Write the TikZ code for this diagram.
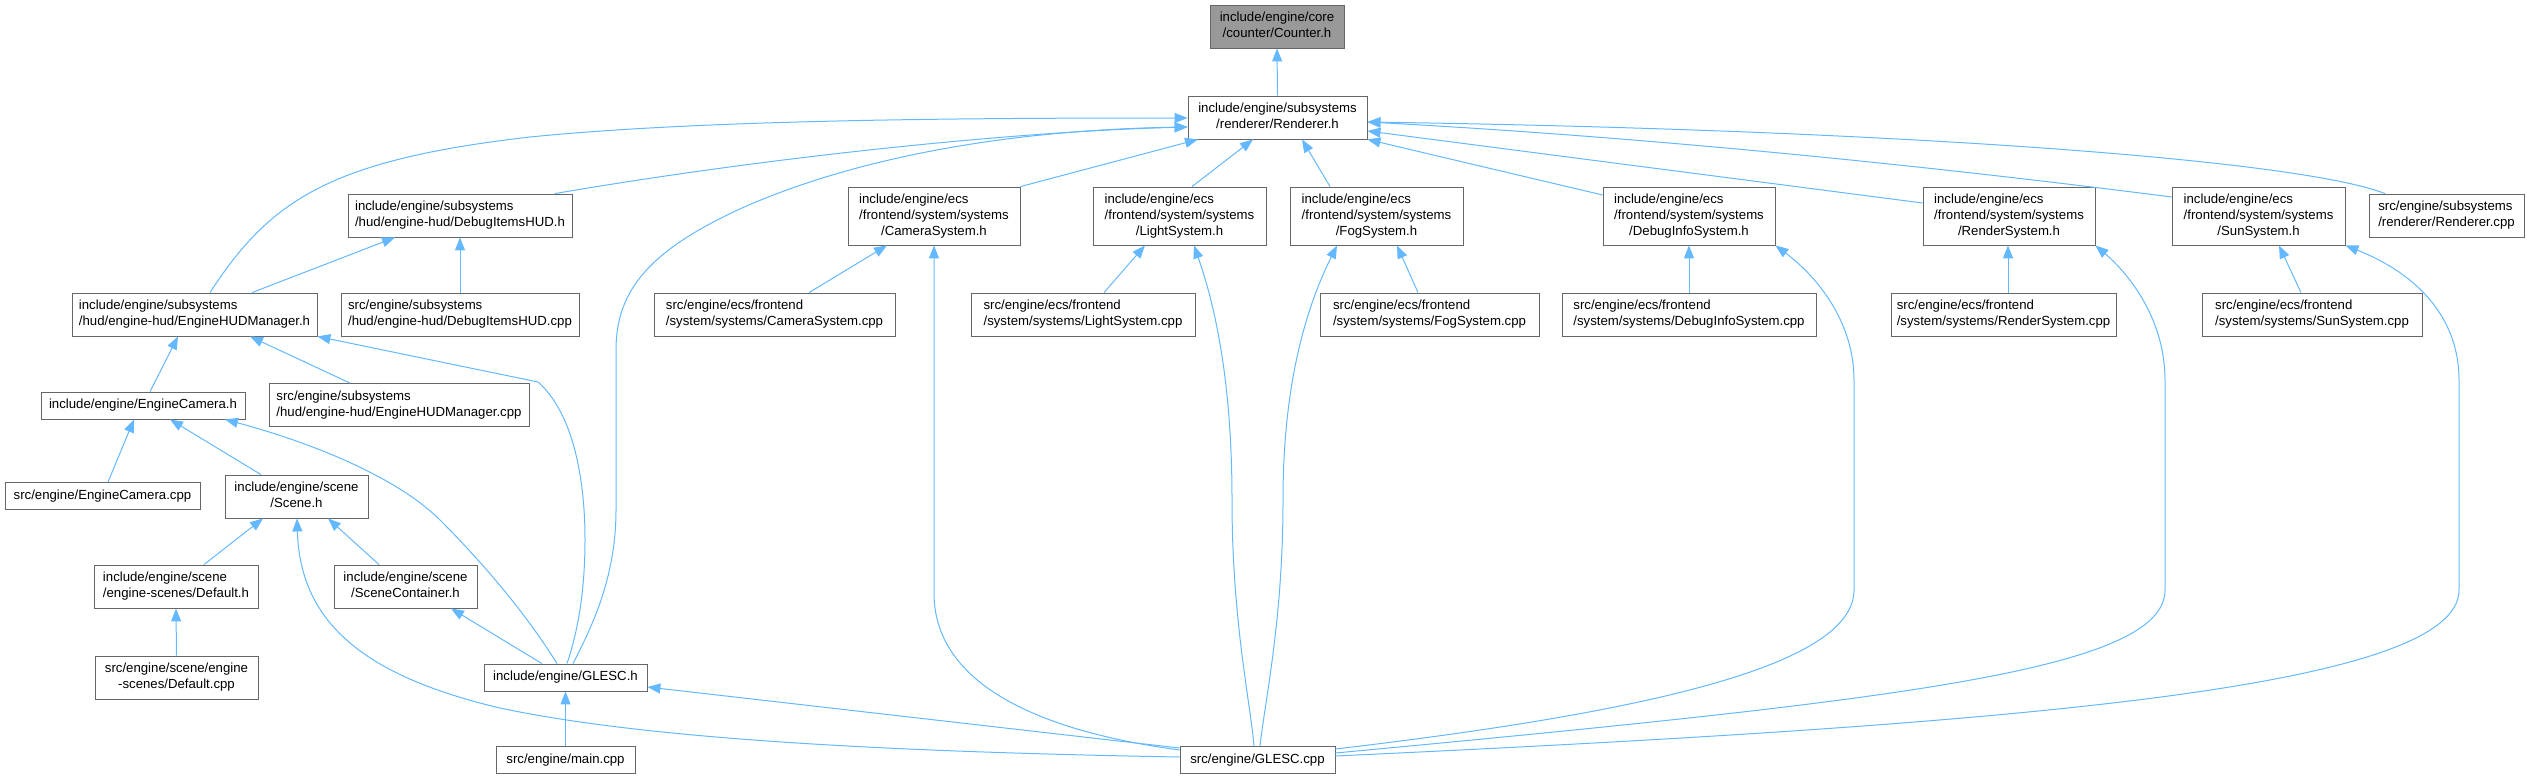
\documentclass[tikz,border=0pt]{standalone}
\usepackage{fontspec}
\setmainfont{Liberation Sans}
\usetikzlibrary{arrows.meta}
\definecolor{boxgray}{HTML}{666666}
\definecolor{rootfill}{HTML}{999999}
\definecolor{edgeblue}{HTML}{63B8FF}
\newcommand\twol[2]{\begin{tabular}{@{}l@{}}#1\\\multicolumn{1}{@{}c@{}}{#2}\end{tabular}}
\newcommand\threel[3]{\begin{tabular}{@{}l@{}}#1\\#2\\\multicolumn{1}{@{}c@{}}{#3}\end{tabular}}
\tikzset{
  filebox/.style={draw=boxgray, line width=0.85bp, fill=white, inner sep=0pt,
    font=\fontsize{13.2bp}{16bp}\selectfont, text=black},
  rootbox/.style={filebox, fill=rootfill},
  dep/.style={draw=edgeblue, line width=1bp, {Triangle[length=13bp,width=10bp]}-}
}
\begin{document}
\begin{tikzpicture}[x=1bp,y=-1bp]
\useasboundingbox (0,0) rectangle (2531,779);
% row 0/1
\node[rootbox, minimum width=134bp, minimum height=43bp] (counter) at (1277,26.5) {\twol{include/engine/core}{/counter/Counter.h}};
\node[filebox, minimum width=179bp, minimum height=43bp] (rendh) at (1277.5,117.5) {\twol{include/engine/subsystems}{/renderer/Renderer.h}};
% row 2
\node[filebox, minimum width=224bp, minimum height=43bp] (dihud) at (460,215.5) {\twol{include/engine/subsystems}{/hud/engine-hud/DebugItemsHUD.h}};
\node[filebox, minimum width=172bp, minimum height=58bp] (camh) at (934,216) {\threel{include/engine/ecs}{/frontend/system/systems}{/CameraSystem.h}};
\node[filebox, minimum width=173bp, minimum height=58bp] (lighth) at (1179.5,216) {\threel{include/engine/ecs}{/frontend/system/systems}{/LightSystem.h}};
\node[filebox, minimum width=173bp, minimum height=58bp] (fogh) at (1376.5,216) {\threel{include/engine/ecs}{/frontend/system/systems}{/FogSystem.h}};
\node[filebox, minimum width=172bp, minimum height=58bp] (dbgh) at (1689,216) {\threel{include/engine/ecs}{/frontend/system/systems}{/DebugInfoSystem.h}};
\node[filebox, minimum width=172bp, minimum height=58bp] (rsysh) at (2009,216) {\threel{include/engine/ecs}{/frontend/system/systems}{/RenderSystem.h}};
\node[filebox, minimum width=173bp, minimum height=58bp] (sunh) at (2258.5,216) {\threel{include/engine/ecs}{/frontend/system/systems}{/SunSystem.h}};
\node[filebox, minimum width=155bp, minimum height=43bp] (rendcpp) at (2446.5,215.5) {\twol{src/engine/subsystems}{/renderer/Renderer.cpp}};
% row 3
\node[filebox, minimum width=245bp, minimum height=43bp] (hudm) at (194.5,314.5) {\twol{include/engine/subsystems}{/hud/engine-hud/EngineHUDManager.h}};
\node[filebox, minimum width=238bp, minimum height=43bp] (dihudcpp) at (460,314.5) {\twol{src/engine/subsystems}{/hud/engine-hud/DebugItemsHUD.cpp}};
\node[filebox, minimum width=241bp, minimum height=43bp] (camcpp) at (774.5,314.5) {\twol{src/engine/ecs/frontend}{/system/systems/CameraSystem.cpp}};
\node[filebox, minimum width=224bp, minimum height=43bp] (lightcpp) at (1083,314.5) {\twol{src/engine/ecs/frontend}{/system/systems/LightSystem.cpp}};
\node[filebox, minimum width=219bp, minimum height=43bp] (fogcpp) at (1429.5,314.5) {\twol{src/engine/ecs/frontend}{/system/systems/FogSystem.cpp}};
\node[filebox, minimum width=254bp, minimum height=43bp] (dbgcpp) at (1689,314.5) {\twol{src/engine/ecs/frontend}{/system/systems/DebugInfoSystem.cpp}};
\node[filebox, minimum width=225bp, minimum height=43bp] (rsyscpp) at (2003.5,314.5) {\twol{src/engine/ecs/frontend}{/system/systems/RenderSystem.cpp}};
\node[filebox, minimum width=220bp, minimum height=43bp] (suncpp) at (2312,314.5) {\twol{src/engine/ecs/frontend}{/system/systems/SunSystem.cpp}};
% lower left
\node[filebox, minimum width=204bp, minimum height=27bp] (ecamh) at (143,405.5) {include/engine/EngineCamera.h};
\node[filebox, minimum width=260bp, minimum height=43bp] (hudmcpp) at (399,405) {\twol{src/engine/subsystems}{/hud/engine-hud/EngineHUDManager.cpp}};
\node[filebox, minimum width=195bp, minimum height=27bp] (ecamcpp) at (102.5,496) {src/engine/EngineCamera.cpp};
\node[filebox, minimum width=143bp, minimum height=43bp] (sceneh) at (296.5,496.5) {\twol{include/engine/scene}{/Scene.h}};
\node[filebox, minimum width=164bp, minimum height=43bp] (defh) at (176,586.5) {\twol{include/engine/scene}{/engine-scenes/Default.h}};
\node[filebox, minimum width=143bp, minimum height=43bp] (scch) at (405.5,586.5) {\twol{include/engine/scene}{/SceneContainer.h}};
\node[filebox, minimum width=163bp, minimum height=43bp] (defcpp) at (176.5,677.5) {\twol{src/engine/scene/engine}{-scenes/Default.cpp}};
\node[filebox, minimum width=163bp, minimum height=27bp] (gleh) at (565.5,677.5) {include/engine/GLESC.h};
\node[filebox, minimum width=139bp, minimum height=27bp] (maincpp) at (565.5,760) {src/engine/main.cpp};
\node[filebox, minimum width=155bp, minimum height=27bp] (glecpp) at (1257.5,760) {src/engine/GLESC.cpp};

% connectors
\draw[dep] (counter.south) -- (rendh.north);
\draw[dep] (rendh.west |- 0,118) .. controls (950,118) and (700,120) .. (530,137) .. controls (330,160) and (270,200) .. (hudm.north -| 210,0);
\draw[dep] (rendh.west |- 0,127) .. controls (1000,132) and (750,160) .. (dihud.north -| 555,0);
\draw[dep] (rendh.west |- 0,127) .. controls (1000,130) and (850,160) .. (742,208) .. controls (650,250) and (616,290) .. (616,350) -- (616,510) .. controls (616,580) and (590,630) .. (gleh.north -| 573,0);
\draw[dep] (rendh.south -| 1198,0) -- (camh.north east);
\draw[dep] (rendh.south -| 1253,0) -- (lighth.north -| 1192,0);
\draw[dep] (rendh.south -| 1302,0) -- (fogh.north -| 1330,0);
\draw[dep] (rendh.south east) -- (dbgh.west |- 0,195);
\draw[dep] (rendh.east |- 0,131) -- (rsysh.west |- 0,203);
\draw[dep] (rendh.east |- 0,122) .. controls (1700,140) and (2000,175) .. (sunh.west |- 0,197);
\draw[dep] (rendh.east |- 0,122) .. controls (1900,130) and (2300,160) .. (rendcpp.north -| 2385,0);
\draw[dep] (dihud.south) -- (dihudcpp.north);
\draw[dep] (dihud.south -| 395,0) -- (hudm.north -| 252,0);
\draw[dep] (camh.south -| 887,0) -- (camcpp.north -| 809,0);
\draw[dep] (camh.south) -- (934,593) .. controls (934,680) and (1030,730) .. (glecpp.west |- 0,750);
\draw[dep] (lighth.south -| 1145,0) -- (lightcpp.north -| 1104,0);
\draw[dep] (lighth.south -| 1194,0) .. controls (1220,320) and (1232,400) .. (1232,500) .. controls (1232,620) and (1250,700) .. (glecpp.north -| 1254,0);
\draw[dep] (fogh.south -| 1397,0) -- (fogcpp.north -| 1418,0);
\draw[dep] (fogh.south -| 1337,0) .. controls (1300,320) and (1283,400) .. (1283,500) .. controls (1283,620) and (1265,700) .. (glecpp.north -| 1260,0);
\draw[dep] (dbgh.south) -- (dbgcpp.north);
\draw[dep] (dbgh.south east) .. controls (1815,275) and (1854,320) .. (1854,380) -- (1854,590) .. controls (1854,665) and (1650,712) .. (glecpp.east |- 0,749);
\draw[dep] (rsysh.south -| 2008,0) -- (rsyscpp.north -| 2008,0);
\draw[dep] (rsysh.south east) .. controls (2130,275) and (2165,320) .. (2165,380) -- (2165,590) .. controls (2165,670) and (1900,700) .. (glecpp.east |- 0,753);
\draw[dep] (sunh.south -| 2279,0) -- (suncpp.north -| 2301,0);
\draw[dep] (sunh.south east) .. controls (2420,275) and (2459,320) .. (2459,380) -- (2459,590) .. controls (2459,690) and (2000,725) .. (glecpp.east |- 0,756);
\draw[dep] (hudm.south -| 178,0) -- (ecamh.north -| 150,0);
\draw[dep] (hudm.south -| 250,0) -- (hudmcpp.north -| 350,0);
\draw[dep] (hudm.south east) -- (538,382) .. controls (570,410) and (585,470) .. (585,540) .. controls (585,600) and (575,640) .. (gleh.north -| 567,0);
\draw[dep] (ecamh.south -| 134,0) -- (ecamcpp.north -| 108,0);
\draw[dep] (ecamh.south -| 170,0) -- (sceneh.north -| 261,0);
\draw[dep] (ecamh.south -| 225,0) .. controls (320,445) and (400,480) .. (440,520) .. controls (490,570) and (530,620) .. (gleh.north -| 557,0);
\draw[dep] (sceneh.south -| 263,0) -- (defh.north -| 204,0);
\draw[dep] (sceneh.south -| 328,0) -- (scch.north -| 379,0);
\draw[dep] (sceneh.south -| 297,0) .. controls (300,620) and (360,675) .. (500,708) .. controls (650,740) and (900,752) .. (glecpp.west |- 0,757);
\draw[dep] (defh.south) -- (defcpp.north);
\draw[dep] (scch.south -| 451,0) -- (gleh.north -| 542,0);
\draw[dep] (gleh.south) -- (maincpp.north);
\draw[dep] (gleh.east |- 0,687) -- (glecpp.west |- 0,748);
\end{tikzpicture}
\end{document}
